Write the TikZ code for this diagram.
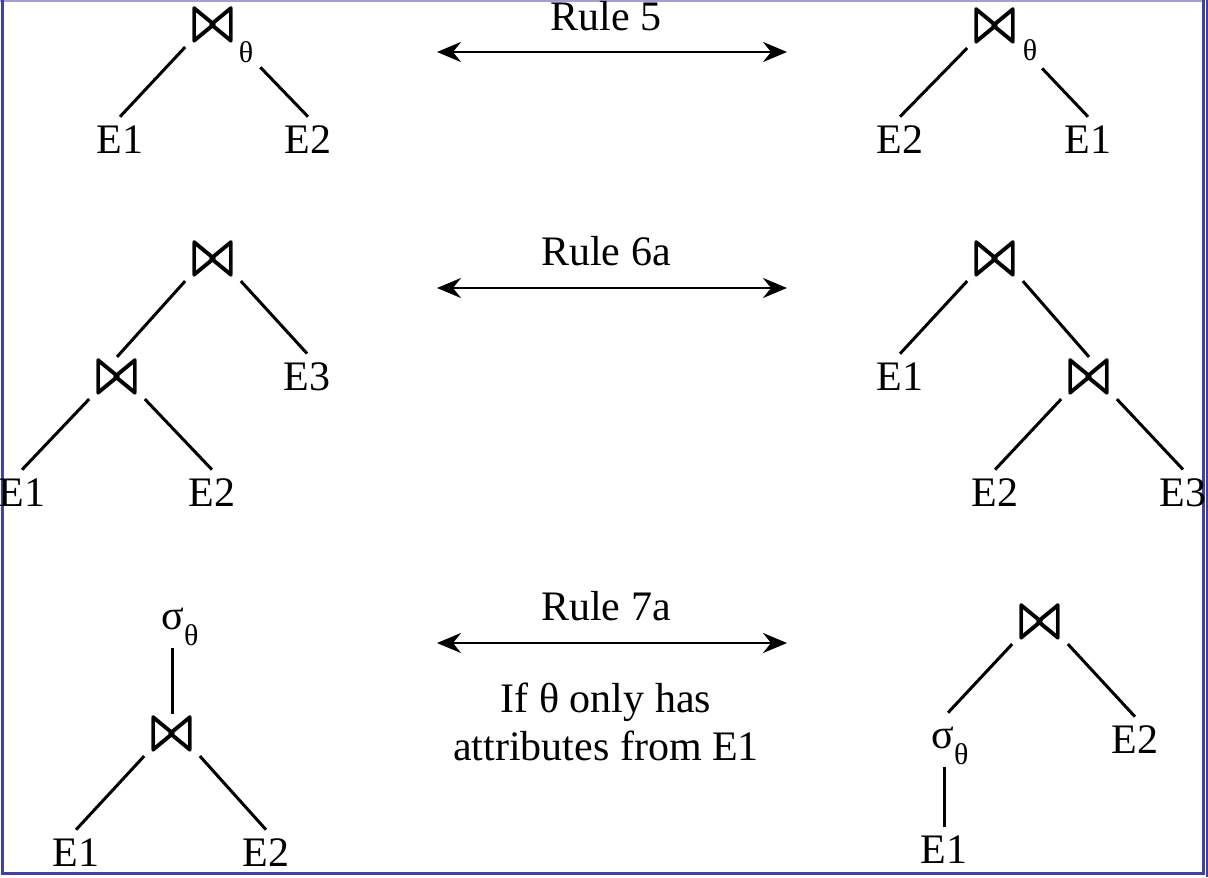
\documentclass[tikz,border=0pt]{standalone}
\usepackage{amssymb}
\usepackage{fontspec}
\setmainfont{Liberation Serif}
\usetikzlibrary{arrows.meta}
\definecolor{framedark}{RGB}{64,64,168}
\definecolor{framelight}{RGB}{160,160,210}
\newcommand{\joinsym}{\scalebox{1.05}[1.5]{\boldmath\rlap{$\bowtie$}\kern0.55pt$\bowtie$}}
\newcommand{\selsym}{σ\raisebox{-8pt}{\fontsize{15}{17}\selectfont θ}}

\begin{document}
\begin{tikzpicture}[x=0.5pt,y=-0.5pt,
    every node/.style={font=\fontsize{21}{24}\selectfont},
    joinnode/.style={inner sep=3pt},
    leaf/.style={inner sep=4.5pt},
    subnode/.style={inner sep=0pt,font=\fontsize{15}{17}\selectfont},
    selnode/.style={inner sep=1pt},
    treeedge/.style={line width=1.5pt},
    rulearrow/.style={line width=1.3pt,{Stealth[length=12pt,width=10pt,inset=4pt]}-{Stealth[length=12pt,width=10pt,inset=4pt]}},
    rulename/.style={anchor=base}]
    \useasboundingbox (0,0) rectangle (1208,877);
    \draw[framelight,line width=1.2pt] (0,1) -- (1205,1);
    \draw[framedark,line width=1.5pt] (2,0) -- (2,873) -- (1203,873) -- (1203,0);
    \draw[framedark,line width=0.8pt] (1207,0) -- (1207,877);

    % Rule 5
    \node[joinnode] (p1) at (213,26) {\joinsym};
    \node[subnode] (t1) at (246,52) {θ};
    \node[leaf] (p1l) at (120,140) {E1};
    \node[leaf] (p1r) at (308,140) {E2};
    \draw[treeedge] (p1.south west) -- (p1l.north);
    \draw[treeedge,shorten <=14pt] (p1.south east) -- (p1r.north);
    \node[joinnode] (q1) at (995,27) {\joinsym};
    \node[subnode] (u1) at (1030,50) {θ};
    \node[leaf] (q1l) at (900,140) {E2};
    \node[leaf] (q1r) at (1088,140) {E1};
    \draw[treeedge] (q1.south west) -- (q1l.north);
    \draw[treeedge,shorten <=14pt] (q1.south east) -- (q1r.north);
    \coordinate (a1l) at (437,52);
    \coordinate (a1r) at (787,52);
    \draw[rulearrow] (a1l) -- (a1r);
    \node[rulename] (n1) at (606,31) {Rule 5};

    % Rule 6a
    \node[joinnode] (p2) at (213,260) {\joinsym};
    \node[joinnode] (p2a) at (117,378) {\joinsym};
    \node[leaf] (p2b) at (307,377) {E3};
    \node[leaf] (p2c) at (22,493) {E1};
    \node[leaf] (p2d) at (212,493) {E2};
    \draw[treeedge] (p2.south west) -- (p2a.north);
    \draw[treeedge] (p2.south east) -- (p2b.north);
    \draw[treeedge] (p2a.south west) -- (p2c.north);
    \draw[treeedge] (p2a.south east) -- (p2d.north);
    \node[joinnode] (q2) at (995,260) {\joinsym};
    \node[leaf] (q2a) at (900,377) {E1};
    \node[joinnode] (q2b) at (1089,378) {\joinsym};
    \node[leaf] (q2c) at (995,493) {E2};
    \node[leaf] (q2d) at (1183,493) {E3};
    \draw[treeedge] (q2.south west) -- (q2a.north);
    \draw[treeedge] (q2.south east) -- (q2b.north);
    \draw[treeedge] (q2b.south west) -- (q2c.north);
    \draw[treeedge] (q2b.south east) -- (q2d.north);
    \coordinate (a2l) at (437,288);
    \coordinate (a2r) at (787,288);
    \draw[rulearrow] (a2l) -- (a2r);
    \node[rulename] (n2) at (606,265) {Rule 6a};

    % Rule 7a
    \node[selnode] (p3) at (180,627) {\selsym};
    \node[joinnode] (p3a) at (172,735) {\joinsym};
    \node[leaf] (p3b) at (76,853) {E1};
    \node[leaf] (p3c) at (266,853) {E2};
    \draw[treeedge] (p3.south -| p3a.north) -- (p3a.north);
    \draw[treeedge] (p3a.south west) -- (p3b.north);
    \draw[treeedge] (p3a.south east) -- (p3c.north);
    \node[joinnode] (q3) at (1040,623) {\joinsym};
    \node[selnode] (q3a) at (950,746) {\selsym};
    \node[leaf] (q3b) at (1135,740) {E2};
    \node[leaf] (q3c) at (944,850) {E1};
    \draw[treeedge] (q3.south west) -- ([shift={(-2,-12)}]q3a.north);
    \draw[treeedge] (q3.south east) -- (q3b.north);
    \draw[treeedge] (q3a.south -| q3c.north) -- (q3c.north);
    \coordinate (a3l) at (437,643);
    \coordinate (a3r) at (787,643);
    \draw[rulearrow] (a3l) -- (a3r);
    \node[rulename] (n3) at (606,620) {Rule 7a};
    \node[align=center] (c3) at (606,722) {If θ only has\\attributes from E1};
\end{tikzpicture}
\end{document}
